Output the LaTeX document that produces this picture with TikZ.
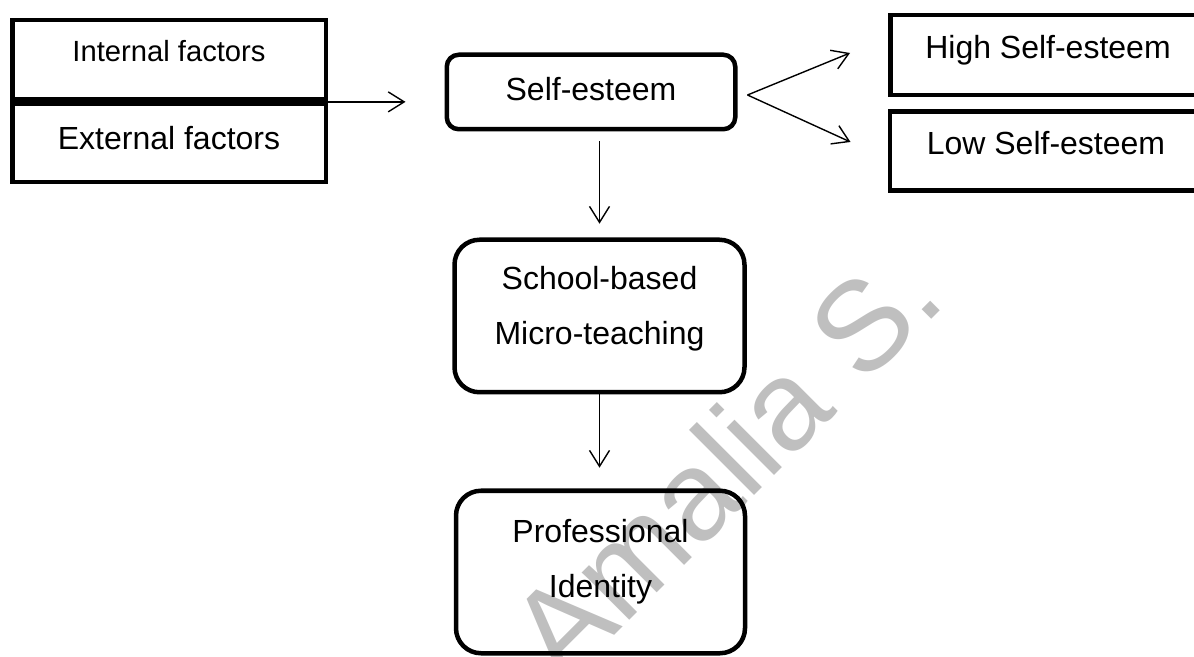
\documentclass[tikz,border=0pt]{standalone}
\usepackage{fontspec}
\setmainfont{Liberation Sans}
\usetikzlibrary{arrows.meta}
\usetikzlibrary{calc}
\definecolor{wmark}{gray}{0.75}
\tikzset{
  factorbox/.style={draw, line width=2.25pt, inner sep=0pt, align=center,
    font=\fontsize{16pt}{27.5pt}\selectfont, text height=11.5pt},
  stagebox/.style={factorbox, rounded corners=#1, text height=39pt},
  arr/.style={line width=0.7pt, -{Straight Barb[length=8pt,width=10pt,line width=0.7pt]}}
}
\begin{document}
\begin{tikzpicture}[x=0.5pt,y=-0.5pt]

	    \useasboundingbox (0,0) rectangle (1194,657);
	    \clip (0,0) rectangle (1194,657);

	    % watermark
	    \node[text=wmark, rotate=45, font=\fontsize{63.5pt}{70pt}\selectfont] (wm) at (724,462) {Amalia S.};

	    \node[factorbox, minimum width=156.75pt, minimum height=39.75pt, font=\fontsize{14.6pt}{20pt}\selectfont, text height=10.5pt, text depth=9pt] (int) at (169,60) {Internal factors};
	    \node[factorbox, minimum width=156.75pt, minimum height=39pt, text depth=5pt] (ext) at (169,143) {External factors};
	    \node[factorbox, rounded corners=6pt, minimum width=144.25pt, minimum height=37.25pt, text depth=3pt] (se) at (591,92) {Self-esteem};
	    \node[factorbox, minimum width=157.75pt, minimum height=40pt, text depth=8pt] (high) at (1048,55) {High Self-esteem};
	    \node[factorbox, minimum width=156.25pt, minimum height=39.5pt, text depth=8pt] (low) at (1046,151) {Low Self-esteem};
	    \node[stagebox=12.5pt, minimum width=145pt, minimum height=76.25pt, text depth=10pt] (sbm) at (599.5,316) {School-based\\Micro-teaching};
	    \node[stagebox=12.5pt, minimum width=144.5pt, minimum height=81.25pt, text depth=14pt] (prof) at (600.5,572) {Professional\\Identity};

	    \coordinate (mid) at ($(int.south east)!0.5!(ext.north east)$);
	    \coordinate (fan) at ($(se.east)+(10,3)$);
	    \coordinate (hightip) at ($(high.west)+(-38,-2)$);
	    \coordinate (lowtip) at ($(low.west)+(-37,-9)$);

	    \draw[arr, shorten >=19.5pt] (mid) -- (mid -| se.west);
	    \draw[arr] (fan) -- (hightip);
	    \draw[arr] (fan) -- (lowtip);
	    \draw[arr, shorten <=5pt, shorten >=6.9pt] (se.south -| sbm.north) -- (sbm.north);
	    \draw[arr, shorten >=10.4pt] (sbm.south) -- (sbm.south |- prof.north);

\end{tikzpicture}
\end{document}
